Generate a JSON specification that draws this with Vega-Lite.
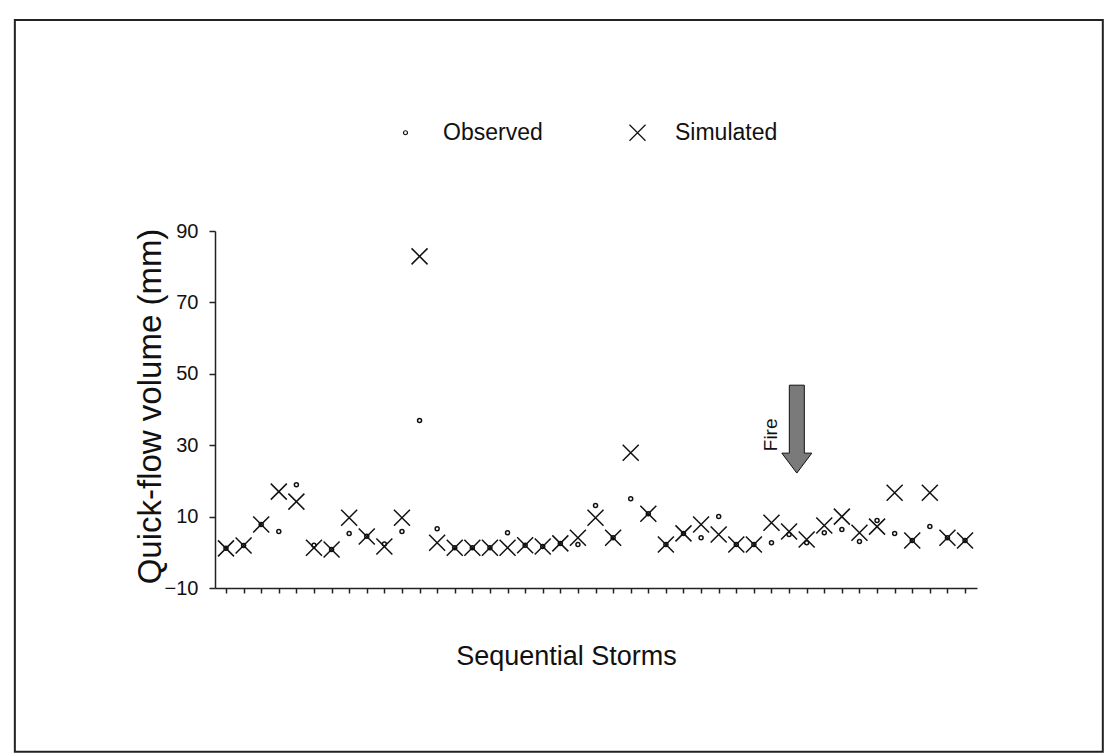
{
  "$schema": "https://vega.github.io/schema/vega-lite/v6.json",
  "width": 762,
  "height": 357,
  "autosize": {"type": "none"},
  "padding": {"left": 215, "top": 231, "right": 135, "bottom": 168},
  "background": "white",
  "config": {
    "font": "Liberation Sans",
    "view": {"stroke": null},
    "axis": {"grid": false, "domainColor": "#222", "tickColor": "#222", "labelColor": "#111", "titleColor": "#111", "titleFontWeight": "normal", "domainWidth": 1.5, "tickWidth": 1.5}
  },
  "datasets": {
    "storms": [
      {"storm": 1, "Observed": 1.1, "Simulated": 1.1},
      {"storm": 2, "Observed": 1.9, "Simulated": 1.9},
      {"storm": 3, "Observed": 7.8, "Simulated": 7.8},
      {"storm": 4, "Observed": 5.8, "Simulated": 17.0},
      {"storm": 5, "Observed": 18.9, "Simulated": 14.2},
      {"storm": 6, "Observed": 2.0, "Simulated": 1.3},
      {"storm": 7, "Observed": 0.8, "Simulated": 0.8},
      {"storm": 8, "Observed": 5.3, "Simulated": 9.7},
      {"storm": 9, "Observed": 4.5, "Simulated": 4.4},
      {"storm": 10, "Observed": 2.3, "Simulated": 1.6},
      {"storm": 11, "Observed": 5.8, "Simulated": 9.7},
      {"storm": 12, "Observed": 36.9, "Simulated": 82.9},
      {"storm": 13, "Observed": 6.6, "Simulated": 2.7},
      {"storm": 14, "Observed": 1.3, "Simulated": 1.3},
      {"storm": 15, "Observed": 1.3, "Simulated": 1.3},
      {"storm": 16, "Observed": 1.3, "Simulated": 1.3},
      {"storm": 17, "Observed": 5.5, "Simulated": 1.3},
      {"storm": 18, "Observed": 2.0, "Simulated": 2.0},
      {"storm": 19, "Observed": 1.6, "Simulated": 1.6},
      {"storm": 20, "Observed": 2.5, "Simulated": 2.5},
      {"storm": 21, "Observed": 2.2, "Simulated": 4.1},
      {"storm": 22, "Observed": 13.1, "Simulated": 9.7},
      {"storm": 23, "Observed": 4.1, "Simulated": 4.1},
      {"storm": 24, "Observed": 15.0, "Simulated": 27.9},
      {"storm": 25, "Observed": 10.8, "Simulated": 10.8},
      {"storm": 26, "Observed": 2.2, "Simulated": 2.2},
      {"storm": 27, "Observed": 5.3, "Simulated": 5.3},
      {"storm": 28, "Observed": 4.1, "Simulated": 7.8},
      {"storm": 29, "Observed": 10.0, "Simulated": 5.0},
      {"storm": 30, "Observed": 2.2, "Simulated": 2.2},
      {"storm": 31, "Observed": 2.2, "Simulated": 2.2},
      {"storm": 32, "Observed": 2.7, "Simulated": 8.3},
      {"storm": 33, "Observed": 5.0, "Simulated": 5.8},
      {"storm": 34, "Observed": 2.7, "Simulated": 3.6},
      {"storm": 35, "Observed": 5.5, "Simulated": 7.5},
      {"storm": 36, "Observed": 6.4, "Simulated": 10.0},
      {"storm": 37, "Observed": 3.0, "Simulated": 5.5},
      {"storm": 38, "Observed": 8.9, "Simulated": 7.2},
      {"storm": 39, "Observed": 5.3, "Simulated": 16.7},
      {"storm": 40, "Observed": 3.3, "Simulated": 3.3},
      {"storm": 41, "Observed": 7.2, "Simulated": 16.7},
      {"storm": 42, "Observed": 4.1, "Simulated": 4.1},
      {"storm": 43, "Observed": 3.3, "Simulated": 3.3}
    ],
    "frame": [{"x1": -11.0, "x2": 50.83, "y1": -55.9, "y2": 149.1}],
    "arrow": [{"storm": 33.44, "value": 34.5}],
    "note": [{"storm": 32.0, "value": 32.9, "label": "Fire"}]
  },
  "layer": [
    {
      "data": {"name": "storms"},
      "transform": [{"fold": ["Observed", "Simulated"], "as": ["series", "value"]}],
      "mark": {"type": "point", "filled": false, "color": "#111", "strokeWidth": 1.5, "opacity": 1},
      "encoding": {
        "x": {
          "field": "storm", "type": "quantitative",
          "scale": {"domain": [0.375, 43.68], "nice": false, "zero": false},
          "axis": {
            "values": [1,2,3,4,5,6,7,8,9,10,11,12,13,14,15,16,17,18,19,20,21,22,23,24,25,26,27,28,29,30,31,32,33,34,35,36,37,38,39,40,41,42,43],
            "labels": false, "tickSize": 5, "tickCount": 43,
            "title": "Sequential Storms", "titleFontSize": 27,
            "titleX": 351, "titleY": 76, "titleAlign": "center", "titleBaseline": "alphabetic"
          }
        },
        "y": {
          "field": "value", "type": "quantitative",
          "scale": {"domain": [-10, 90], "nice": false, "zero": false},
          "axis": {
            "values": [-10, 10, 30, 50, 70, 90],
            "tickSize": 6, "labelPadding": 11, "labelFontSize": 20,
            "title": "Quick-flow volume (mm)", "titleFontSize": 33,
            "titleX": -55, "titleY": 175, "titleAngle": 270, "titleAlign": "center", "titleBaseline": "alphabetic"
          }
        },
        "shape": {
          "field": "series", "type": "nominal",
          "scale": {"domain": ["Observed", "Simulated"], "range": ["circle", "M-1,-1L1,1M-1,1L1,-1"]},
          "legend": {
            "title": null, "orient": "none", "direction": "horizontal",
            "legendX": 179, "legendY": -110, "padding": 0,
            "labelFontSize": 23, "labelColor": "#111", "labelOffset": 26, "columnPadding": 83,
            "symbolStrokeColor": "#111", "symbolStrokeWidth": 1.2, "symbolFillColor": "transparent"
          }
        },
        "size": {
          "field": "series", "type": "nominal",
          "scale": {"domain": ["Observed", "Simulated"], "range": [16, 256]},
          "legend": {
            "title": null, "orient": "none", "direction": "horizontal",
            "legendX": 179, "legendY": -110, "padding": 0,
            "labelFontSize": 23, "labelColor": "#111", "labelOffset": 26, "columnPadding": 83,
            "symbolStrokeColor": "#111", "symbolStrokeWidth": 1.2, "symbolFillColor": "transparent"
          }
        },
        "order": {"field": "series", "sort": "descending"}
      }
    },
    {
      "data": {"name": "frame"},
      "mark": {"type": "rect", "filled": false, "color": "#222", "strokeWidth": 2, "clip": false},
      "encoding": {
        "x": {"field": "x1", "type": "quantitative"},
        "x2": {"field": "x2"},
        "y": {"field": "y1", "type": "quantitative"},
        "y2": {"field": "y2"}
      }
    },
    {
      "data": {"name": "arrow"},
      "mark": {"type": "point", "shape": "M-0.5,-2.93L0.5,-2.93L0.5,1.6L1,1.6L0,2.93L-1,1.6L-0.5,1.6Z", "size": 900, "filled": true, "fill": "#7a7a7a", "stroke": "#111", "strokeWidth": 1, "opacity": 1},
      "encoding": {
        "x": {"field": "storm", "type": "quantitative"},
        "y": {"field": "value", "type": "quantitative"}
      }
    },
    {
      "data": {"name": "note"},
      "mark": {"type": "text", "angle": 270, "fontSize": 19, "align": "center", "baseline": "middle", "color": "#111"},
      "encoding": {
        "x": {"field": "storm", "type": "quantitative"},
        "y": {"field": "value", "type": "quantitative"},
        "text": {"field": "label"}
      }
    }
  ]
}
